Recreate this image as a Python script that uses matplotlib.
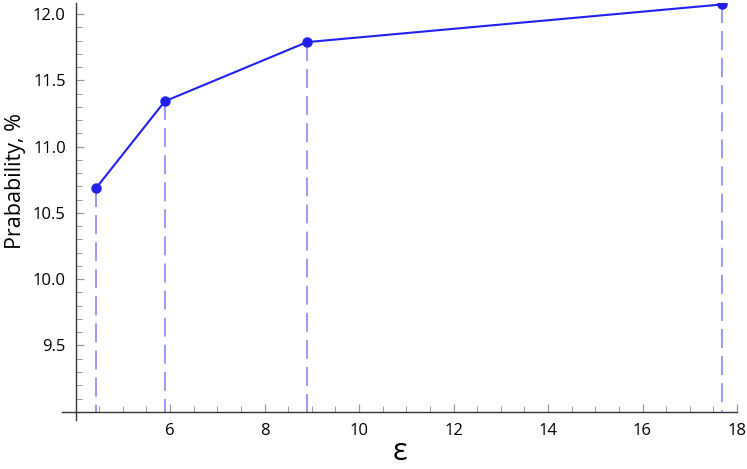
import matplotlib
matplotlib.use("Agg")
import matplotlib.pyplot as plt
from matplotlib.ticker import MultipleLocator

# data
eps = [4.43, 5.89, 8.90, 17.68]
prob = [10.685, 11.342, 11.788, 12.072]

plt.rcParams['font.family'] = ['Open Sans', 'DejaVu Sans']

fig = plt.figure(figsize=(7.47, 4.69), dpi=100)
ax = fig.add_axes([62.3 / 747, 1 - 420 / 469, (737 - 62.3) / 747, (420 - 3) / 469])

# dashed drop lines down to the x axis
for x, y in zip(eps, prob):
    ax.plot([x, x], [y, 9.0], color='#9090f8', lw=1.3, dashes=(10.5, 4.5), zorder=1)

ax.plot(eps, prob, color='#2020f0', lw=1.5, marker='o', markersize=6.5, zorder=3)

ax.set_xlim(3.72, 18.0)
ax.set_ylim(8.938, 12.083)

for side in ['top', 'right']:
    ax.spines[side].set_visible(False)
ax.spines['bottom'].set_position(('data', 9.0))
ax.spines['left'].set_position(('data', 4.0))
for side in ['bottom', 'left']:
    ax.spines[side].set_color('#333333')
    ax.spines[side].set_linewidth(1.0)

ax.xaxis.set_minor_locator(MultipleLocator(0.5))
ax.yaxis.set_minor_locator(MultipleLocator(0.1))
ax.set_xticks([6, 8, 10, 12, 14, 16, 18])
ax.set_yticks([9.5, 10.0, 10.5, 11.0, 11.5, 12.0])
ax.set_yticklabels(['9.5', '10.0', '10.5', '11.0', '11.5', '12.0'])

ax.tick_params(which='both', direction='in', color='#999999', labelsize=12)
ax.tick_params(which='major', length=6, width=0.9)
ax.tick_params(which='minor', length=4, width=0.7)
ax.tick_params(axis='y', pad=7)
ax.tick_params(axis='x', pad=8)

fig.text(0.021, 0.615, 'Prabability, %', rotation=90, ha='center', va='center', fontsize=15.5)
fig.text(400 / 747, 1 - 452 / 469, 'ε', ha='center', va='center', fontsize=22)

fig.savefig('out.png', dpi=100)
